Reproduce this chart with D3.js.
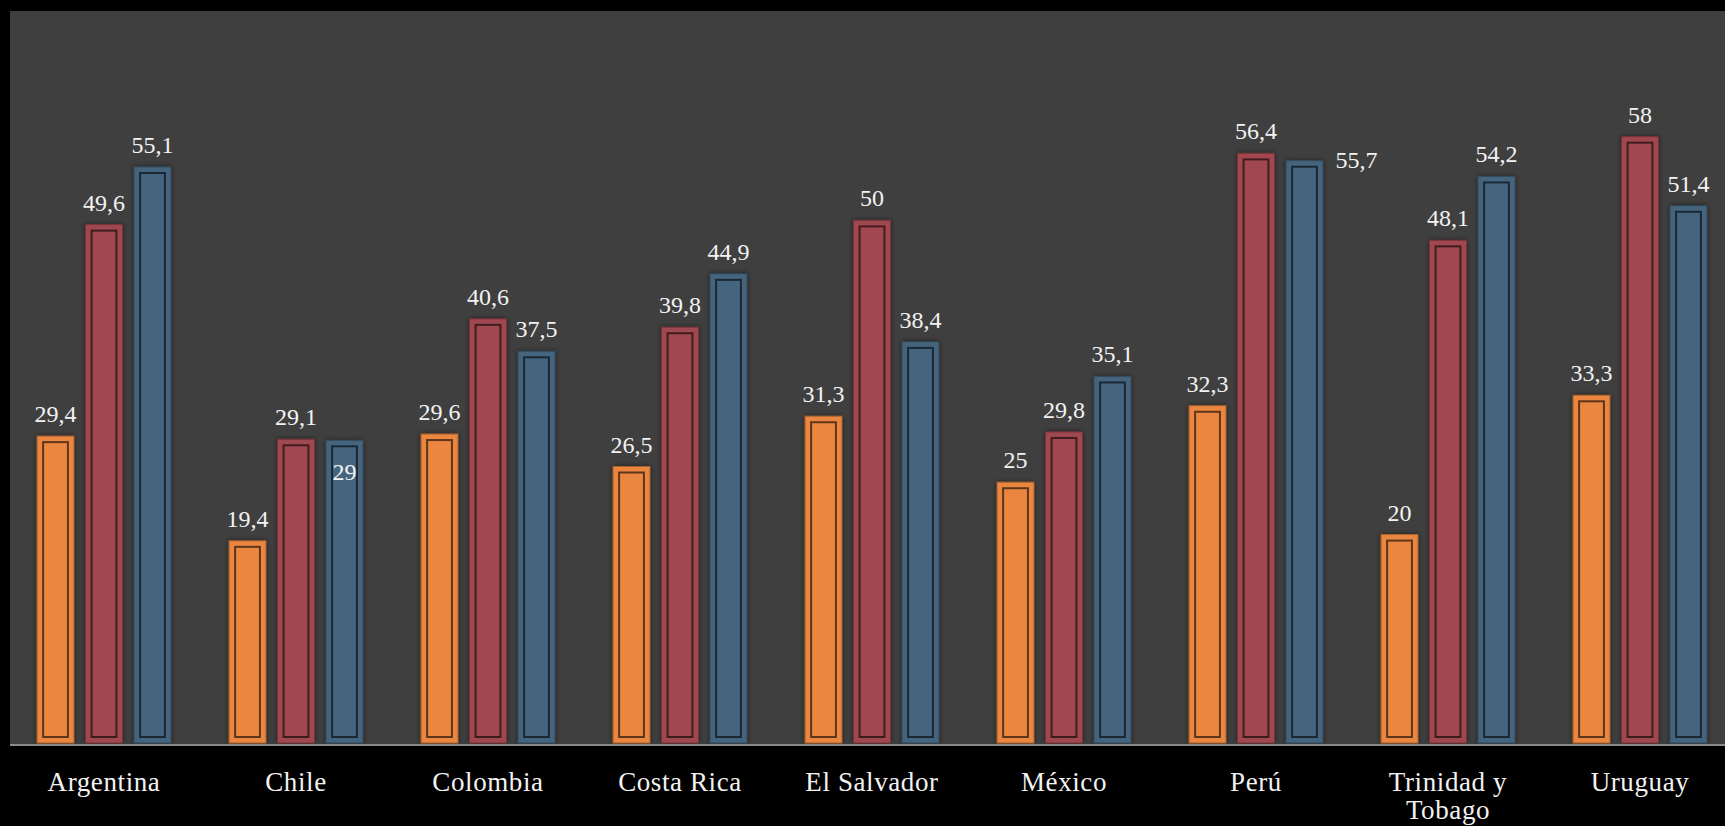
<!DOCTYPE html>
<html>
<head>
<meta charset="utf-8">
<script src="https://cdn.jsdelivr.net/npm/d3@7"></script>
<style>
  body { margin: 0; background: #000; }
  svg { display: block; }
</style>
</head>
<body>
<div id="chart"></div>
<script>
var countries = ["Argentina", "Chile", "Colombia", "Costa Rica", "El Salvador", "México", "Perú", "Trinidad y Tobago", "Uruguay"];
var seriesNames = ["s1", "s2", "s3"];
var s1 = [29.4, 19.4, 29.6, 26.5, 31.3, 25, 32.3, 20, 33.3];
var s2 = [49.6, 29.1, 40.6, 39.8, 50, 29.8, 56.4, 48.1, 58];
var s3 = [55.1, 29, 37.5, 44.9, 38.4, 35.1, 55.7, 54.2, 51.4];

var W = 1725, H = 826;
var plot = { left: 10, top: 11, right: 1725, bottom: 745 };
var colors = { s1: "#EA863F", s2: "#A1474F", s3: "#44657F" };

var data = countries.map(function (c, i) {
    return { country: c, values: [
        { key: "s1", value: s1[i] },
        { key: "s2", value: s2[i] },
        { key: "s3", value: s3[i] }
    ] };
});

var svg = d3.select("#chart")
    .append("svg")
    .attr("width", W)
    .attr("height", H);

svg.append("rect")
    .attr("width", W).attr("height", H)
    .attr("fill", "#000");

svg.append("rect")
    .attr("x", plot.left).attr("y", plot.top)
    .attr("width", plot.right - plot.left)
    .attr("height", plot.bottom - plot.top)
    .attr("fill", "#3f3f3f");

var defs = svg.append("defs");
defs.append("filter")
    .attr("id", "shadow")
    .attr("x", "-30%").attr("y", "-10%")
    .attr("width", "160%").attr("height", "120%")
    .append("feDropShadow")
    .attr("dx", 0).attr("dy", 0)
    .attr("stdDeviation", 2.5)
    .attr("flood-color", "#000")
    .attr("flood-opacity", 0.55);
defs.append("clipPath").attr("id", "clip")
    .append("rect")
    .attr("x", plot.left).attr("y", plot.top)
    .attr("width", plot.right - plot.left)
    .attr("height", plot.bottom - plot.top);

var x0 = d3.scaleBand()
    .domain(countries)
    .range([8, 1736]);

var x1 = d3.scaleBand()
    .domain(seriesNames)
    .range([0, x0.bandwidth()])
    .paddingInner(0.24)
    .paddingOuter(0.6);

var y = d3.scaleLinear()
    .domain([0, 70])
    .range([744, plot.top]);

var g = svg.append("g").attr("clip-path", "url(#clip)");

var groups = g.selectAll(".group")
    .data(data)
    .enter()
    .append("g")
    .attr("class", "group")
    .attr("transform", function (d) { return "translate(" + x0(d.country) + ",0)"; });

var bars = groups.selectAll(".bar")
    .data(function (d) { return d.values; })
    .enter()
    .append("g")
    .attr("class", "bar");

bars.append("rect")
    .attr("x", function (d) { return x1(d.key); })
    .attr("y", function (d) { return y(d.value); })
    .attr("width", x1.bandwidth())
    .attr("height", function (d) { return y(0) - y(d.value) - 1; })
    .attr("fill", function (d) { return colors[d.key]; })
    .attr("stroke", function (d) { return d3.color(colors[d.key]).darker(0.8); })
    .attr("stroke-width", 1)
    .attr("filter", "url(#shadow)");

bars.append("rect")
    .attr("x", function (d) { return x1(d.key) + 6; })
    .attr("y", function (d) { return y(d.value) + 6; })
    .attr("width", x1.bandwidth() - 12)
    .attr("height", function (d) { return y(0) - y(d.value) - 13; })
    .attr("fill", "none")
    .attr("stroke", "rgba(0,0,0,0.6)")
    .attr("stroke-width", 2);

// Manual label moves as in the source chart
var nudge = {
    "Chile|s3": { dx: 0, dy: 54 },
    "Perú|s3": { dx: 52, dy: 21 }
};

groups.each(function (gd) {
    d3.select(this).selectAll(".lbl")
        .data(gd.values)
        .enter()
        .append("text")
        .attr("class", "lbl")
        .attr("text-anchor", "middle")
        .attr("x", function (d) {
            var n = nudge[gd.country + "|" + d.key];
            return x1(d.key) + x1.bandwidth() / 2 + (n ? n.dx : 0);
        })
        .attr("y", function (d) {
            var n = nudge[gd.country + "|" + d.key];
            return y(d.value) - 14 + (n ? n.dy : 0);
        })
        .style("font-family", "'Liberation Serif', serif")
        .style("font-size", "24px")
        .attr("fill", "#f2f2f2")
        .text(function (d) { return String(d.value).replace(".", ","); });
});

var xAxis = svg.append("g")
    .attr("transform", "translate(0,744)")
    .call(d3.axisBottom(x0).tickSize(0).tickPadding(0));

xAxis.select(".domain").remove();
svg.append("line")
    .attr("x1", plot.left).attr("x2", plot.right)
    .attr("y1", y(0) + 1).attr("y2", y(0) + 1)
    .attr("stroke", "#8a8a8a")
    .attr("stroke-width", 2);

xAxis.selectAll(".tick text")
    .style("font-family", "'Liberation Serif', serif")
    .style("font-size", "27px")
    .style("letter-spacing", "0.6px")
    .attr("fill", "#f2f2f2")
    .attr("y", 0)
    .attr("dy", null)
    .each(function () {
        var t = d3.select(this);
        var words = t.text().split(" ");
        t.text(null);
        var lines = [], line = [];
        var tspan = t.append("tspan");
        words.forEach(function (w) {
            line.push(w);
            tspan.text(line.join(" "));
            if (tspan.node().getComputedTextLength() > 160 && line.length > 1) {
                line.pop();
                lines.push(line.join(" "));
                line = [w];
            }
        });
        lines.push(line.join(" "));
        t.text(null);
        lines.forEach(function (l, i) {
            t.append("tspan")
                .attr("x", 0)
                .attr("y", 47 + i * 28)
                .text(l);
        });
    });
</script>
</body>
</html>
